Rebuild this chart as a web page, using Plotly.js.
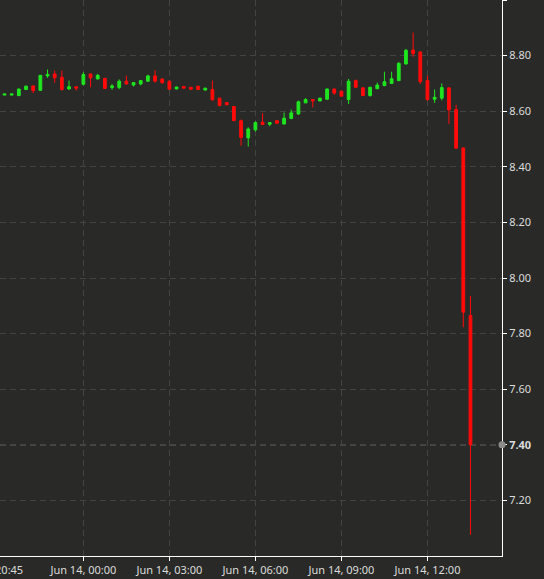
<!DOCTYPE html>
<html>
<head>
<meta charset="utf-8">
<script src="https://cdn.plot.ly/plotly-3.0.1.min.js"></script>
<style>
html, body { margin:0; padding:0; background:#292a27; overflow:hidden; width:544px; height:579px; }
#chart { position:absolute; left:-60px; top:0; width:604px; height:579px; }
</style>
</head>
<body>
<div id="chart"></div>
<script>
const times = [
 '2023-06-13 21:15','2023-06-13 21:30','2023-06-13 21:45','2023-06-13 22:00','2023-06-13 22:15','2023-06-13 22:30',
 '2023-06-13 22:45','2023-06-13 23:00','2023-06-13 23:15','2023-06-13 23:30','2023-06-13 23:45',
 '2023-06-14 00:00','2023-06-14 00:15','2023-06-14 00:30','2023-06-14 00:45','2023-06-14 01:00','2023-06-14 01:15',
 '2023-06-14 01:30','2023-06-14 01:45','2023-06-14 02:00','2023-06-14 02:15','2023-06-14 02:30','2023-06-14 02:45',
 '2023-06-14 03:00','2023-06-14 03:15','2023-06-14 03:30','2023-06-14 03:45','2023-06-14 04:00','2023-06-14 04:15',
 '2023-06-14 04:30','2023-06-14 04:45','2023-06-14 05:00','2023-06-14 05:15','2023-06-14 05:30','2023-06-14 05:45',
 '2023-06-14 06:00','2023-06-14 06:15','2023-06-14 06:30','2023-06-14 06:45','2023-06-14 07:00','2023-06-14 07:15',
 '2023-06-14 07:30','2023-06-14 07:45','2023-06-14 08:00','2023-06-14 08:15','2023-06-14 08:30','2023-06-14 08:45',
 '2023-06-14 09:00','2023-06-14 09:15','2023-06-14 09:30','2023-06-14 09:45','2023-06-14 10:00','2023-06-14 10:15',
 '2023-06-14 10:30','2023-06-14 10:45','2023-06-14 11:00','2023-06-14 11:15','2023-06-14 11:30','2023-06-14 11:45',
 '2023-06-14 12:00','2023-06-14 12:15','2023-06-14 12:30','2023-06-14 12:45','2023-06-14 13:00','2023-06-14 13:15',
 '2023-06-14 13:30'
];
const openV = [
 8.658,8.658,8.656,8.678,8.691,8.675,8.727,8.734,8.722,8.680,8.688,
 8.697,8.734,8.716,8.718,8.685,8.685,8.708,8.694,8.698,8.708,8.727,8.716,
 8.708,8.680,8.689,8.686,8.690,8.676,8.678,8.647,8.631,8.617,8.566,8.504,
 8.533,8.560,8.553,8.566,8.554,8.574,8.590,8.630,8.642,8.637,8.643,8.680,
 8.672,8.642,8.710,8.684,8.656,8.681,8.692,8.700,8.710,8.770,8.820,8.813,
 8.710,8.643,8.647,8.684,8.606,8.468,7.865
];
const highV = [
 8.662,8.663,8.680,8.692,8.692,8.730,8.750,8.746,8.746,8.710,8.689,
 8.740,8.735,8.734,8.720,8.698,8.714,8.728,8.703,8.710,8.731,8.747,8.718,
 8.710,8.688,8.690,8.687,8.691,8.684,8.710,8.648,8.632,8.618,8.570,8.542,
 8.563,8.593,8.560,8.567,8.595,8.606,8.638,8.647,8.643,8.648,8.681,8.681,
 8.673,8.716,8.714,8.685,8.688,8.703,8.742,8.742,8.777,8.824,8.883,8.816,
 8.728,8.678,8.700,8.685,8.623,8.469,7.935
];
const lowV = [
 8.658,8.657,8.656,8.676,8.665,8.674,8.720,8.702,8.674,8.677,8.674,
 8.693,8.686,8.715,8.680,8.677,8.679,8.696,8.689,8.693,8.706,8.703,8.698,
 8.678,8.679,8.682,8.678,8.677,8.675,8.638,8.618,8.622,8.565,8.476,8.473,
 8.527,8.551,8.546,8.554,8.552,8.571,8.587,8.629,8.614,8.636,8.642,8.659,
 8.653,8.626,8.685,8.655,8.653,8.679,8.690,8.698,8.708,8.768,8.796,8.698,
 8.637,8.630,8.639,8.554,8.466,7.823,7.076
];
const closeV = [
 8.662,8.662,8.680,8.690,8.674,8.729,8.732,8.720,8.678,8.688,8.683,
 8.732,8.720,8.729,8.682,8.691,8.708,8.698,8.703,8.710,8.727,8.708,8.703,
 8.679,8.687,8.683,8.679,8.678,8.683,8.641,8.620,8.623,8.566,8.506,8.536,
 8.559,8.552,8.559,8.557,8.575,8.594,8.634,8.642,8.637,8.647,8.680,8.665,
 8.654,8.708,8.686,8.656,8.686,8.694,8.706,8.717,8.772,8.819,8.808,8.706,
 8.642,8.650,8.685,8.605,8.467,7.877,7.400
];
const xTickVals = ['2023-06-13 20:45','2023-06-14 00:00','2023-06-14 03:00','2023-06-14 06:00','2023-06-14 09:00','2023-06-14 12:00'];
const xTickText = ['Jun 13, 20:45','Jun 14, 00:00','Jun 14, 03:00','Jun 14, 06:00','Jun 14, 09:00','Jun 14, 12:00'];
const yTickVals = [7.2,7.4,7.6,7.8,8.0,8.2,8.4,8.6,8.8,9.0];
const yTickText = ['7.20','<b>7.40</b>','7.60','7.80','8.00','8.20','8.40','8.60','8.80',''];
const xRange = ['2023-06-13 19:00','2023-06-14 14:36'];
const yRange = [7.0, 9.0];

const GREEN = '#1fe61f', RED = '#ff0a0a';
const lastClose = closeV[closeV.length - 1];

const trace = {
  type: 'candlestick',
  x: times, open: openV, high: highV, low: lowV, close: closeV,
  increasing: { line: { color: GREEN, width: 1 }, fillcolor: GREEN },
  decreasing: { line: { color: RED, width: 1 }, fillcolor: RED },
  whiskerwidth: 0,
  hoverinfo: 'none'
};

const gridCol = '#424441';
const layout = {
  width: 604, height: 579,
  paper_bgcolor: '#292a27', plot_bgcolor: '#292a27',
  margin: { l: 0, r: 42, t: 0, b: 23, pad: 0 },
  showlegend: false,
  boxgap: 0.45,
  font: { family: 'Noto Sans, sans-serif', size: 11, color: '#dcdcdc' },
  xaxis: {
    type: 'date', range: xRange,
    tickvals: xTickVals, ticktext: xTickText,
    showgrid: true, gridcolor: gridCol, griddash: '6px,4px', gridwidth: 1,
    showline: true, linecolor: '#ffffff', linewidth: 1,
    ticks: 'outside', ticklen: 4, tickcolor: '#ffffff',
    tickfont: { size: 11, color: '#dcdcdc' },
    rangeslider: { visible: false },
    zeroline: false, fixedrange: true
  },
  yaxis: {
    side: 'right', range: yRange,
    tickvals: yTickVals, ticktext: yTickText,
    showgrid: true, gridcolor: gridCol, griddash: '6px,4px', gridwidth: 1,
    showline: true, linecolor: '#ffffff', linewidth: 1,
    ticks: 'outside', ticklen: 4, tickcolor: '#ffffff',
    tickfont: { size: 11, color: '#dcdcdc' },
    zeroline: false, fixedrange: true
  },
  shapes: [
    { type: 'line', xref: 'paper', x0: 0, x1: 1, yref: 'y', y0: lastClose, y1: lastClose,
      line: { color: '#8f8f8f', width: 1, dash: '6px,4px' }, layer: 'below' },
    { type: 'circle', xref: 'paper', xsizemode: 'pixel', xanchor: 1, x0: -3.5, x1: 3.5,
      yref: 'y', ysizemode: 'pixel', yanchor: lastClose, y0: -3.5, y1: 3.5,
      fillcolor: '#8c8c8c', line: { width: 0 } }
  ]
};

Plotly.newPlot('chart', [trace], layout, { displayModeBar: false, staticPlot: true });
</script>
</body>
</html>
